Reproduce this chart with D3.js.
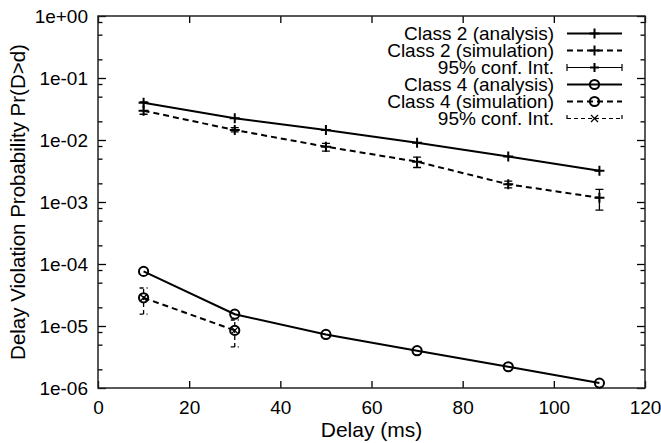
<!DOCTYPE html>
<html><head><meta charset="utf-8">
<script src="https://cdn.jsdelivr.net/npm/d3@7"></script>
<style>body{margin:0;background:#fff}svg{display:block}text{font-family:"Liberation Sans",Arial,sans-serif;fill:#000}</style>
</head><body><svg id="c" width="661" height="443"></svg>
<script>
const delays = [10, 30, 50, 70, 90, 110];
const class2Analysis = [0.040, 0.0224, 0.0145, 0.0090, 0.0054, 0.0032];
const class2Sim = [0.0297, 0.0145, 0.0078, 0.00447, 0.00193, 0.00117];
const class2Lo = [0.026, 0.0135, 0.0066, 0.0036, 0.00169, 0.00074];
const class2Hi = [0.041, 0.0158, 0.0088, 0.0053, 0.00217, 0.0016];
const class4Delays = [10, 30];
const class4Analysis = [7.6e-5, 1.55e-5, 7.3e-6, 4.0e-6, 2.2e-6, 1.2e-6];
const class4Sim = [2.85e-5, 8.5e-6];
const class4Lo = [1.56e-5, 4.6e-6];
const class4Hi = [4.1e-5, 1.25e-5];
const xTicks = [0, 20, 40, 60, 80, 100, 120];
const yTicks = [1, 1e-1, 1e-2, 1e-3, 1e-4, 1e-5, 1e-6];
const yTickLabels = ["1e+00", "1e-01", "1e-02", "1e-03", "1e-04", "1e-05", "1e-06"];
const minorMult = [2, 5, 8];
const legendLabels = ["Class 2 (analysis)", "Class 2 (simulation)", "95% conf. Int.", "Class 4 (analysis)", "Class 4 (simulation)", "95% conf. Int."];

const svg = d3.select("#c");
const L = 98, R = 645, T = 16, B = 388;
const x = d3.scaleLinear().domain([0, 120]).range([L, R]);
const y = d3.scaleLog().domain([1e-6, 1]).range([B, T]);

const minorVals = [];
yTicks.slice(1).forEach(d => minorMult.forEach(m => minorVals.push(d * m)));

const noLab = () => "";
// left axis
const gl = svg.append("g").attr("transform", `translate(${L},0)`)
  .call(d3.axisLeft(y).tickValues(yTicks).tickSize(-8).tickPadding(10)
    .tickFormat((d, i) => yTickLabels[i]));
svg.append("g").attr("transform", `translate(${L},0)`)
  .call(d3.axisLeft(y).tickValues(minorVals).tickSize(-4.5).tickFormat(noLab));
svg.append("g").attr("transform", `translate(${R},0)`)
  .call(d3.axisRight(y).tickValues(yTicks).tickSize(-8).tickFormat(noLab));
svg.append("g").attr("transform", `translate(${R},0)`)
  .call(d3.axisRight(y).tickValues(minorVals).tickSize(-4.5).tickFormat(noLab));
const gb = svg.append("g").attr("transform", `translate(0,${B})`)
  .call(d3.axisBottom(x).tickValues(xTicks).tickSize(-7).tickPadding(12).tickFormat(d3.format("d")));
svg.append("g").attr("transform", `translate(0,${T})`)
  .call(d3.axisTop(x).tickValues(xTicks).tickSize(-7).tickFormat(noLab));
svg.selectAll(".domain").remove();
svg.selectAll(".tick line").attr("stroke", "#000").attr("stroke-width", 1.3);
svg.selectAll(".tick text").style("font-size", "19px").style("font-family", '"Liberation Sans",Arial,sans-serif');
gl.selectAll(".tick text").attr("dy", "0.36em");
gb.selectAll(".tick text").attr("dy", "0.72em");

svg.append("rect").attr("x", L).attr("y", T).attr("width", R - L).attr("height", B - T)
  .attr("fill", "none").attr("stroke", "#222").attr("stroke-width", 1.5);

// axis titles
svg.append("text").attr("x", (L + R) / 2).attr("y", 437).attr("text-anchor", "middle")
  .style("font-size", "21px").text("Delay (ms)");
svg.append("text").attr("transform", `translate(25,${(T + B) / 2}) rotate(-90)`).attr("text-anchor", "middle")
  .style("font-size", "20.5px").text("Delay Violation Probability Pr(D>d)");

const plot = svg.append("g");
const line = d3.line().x(d => x(d[0])).y(d => y(d[1]));

function plus(g, cx, cy, s) {
  g.append("path").attr("d", `M${cx - s},${cy}H${cx + s}M${cx},${cy - s}V${cy + s}`)
    .attr("stroke", "#000").attr("stroke-width", 2).attr("fill", "none");
}
function cross(g, cx, cy, s, w) {
  g.append("path").attr("d", `M${cx - s},${cy - s}L${cx + s},${cy + s}M${cx - s},${cy + s}L${cx + s},${cy - s}`)
    .attr("stroke", "#000").attr("stroke-width", w).attr("fill", "none");
}
function circ(g, cx, cy) {
  g.append("circle").attr("cx", cx).attr("cy", cy).attr("r", 4.6)
    .attr("stroke", "#000").attr("stroke-width", 2).attr("fill", "none");
}
function errbar(g, cx, lo, hi, dash) {
  const c = 4;
  const p = g.append("path").attr("d", `M${cx},${y(lo)}V${y(hi)}M${cx - c},${y(lo)}H${cx + c}M${cx - c},${y(hi)}H${cx + c}`)
    .attr("stroke", "#000").attr("stroke-width", 1.3).attr("fill", "none");
  if (dash) p.attr("stroke-dasharray", "4,3");
}

// Class 2 analysis
plot.append("path").datum(delays.map((d, i) => [d, class2Analysis[i]])).attr("d", line)
  .attr("fill", "none").attr("stroke", "#000").attr("stroke-width", 2);
delays.forEach((d, i) => plus(plot, x(d), y(class2Analysis[i]), 5));
// Class 2 simulation
plot.append("path").datum(delays.map((d, i) => [d, class2Sim[i]])).attr("d", line)
  .attr("fill", "none").attr("stroke", "#000").attr("stroke-width", 2).attr("stroke-dasharray", "6,4");
delays.forEach((d, i) => { errbar(plot, x(d), class2Lo[i], class2Hi[i], false); plus(plot, x(d), y(class2Sim[i]), 5); });
// Class 4 analysis
plot.append("path").datum(delays.map((d, i) => [d, class4Analysis[i]])).attr("d", line)
  .attr("fill", "none").attr("stroke", "#000").attr("stroke-width", 2);
delays.forEach((d, i) => circ(plot, x(d), y(class4Analysis[i])));
// Class 4 simulation
plot.append("path").datum(class4Delays.map((d, i) => [d, class4Sim[i]])).attr("d", line)
  .attr("fill", "none").attr("stroke", "#000").attr("stroke-width", 2).attr("stroke-dasharray", "6,4");
class4Delays.forEach((d, i) => {
  errbar(plot, x(d), class4Lo[i], class4Hi[i], true);
  circ(plot, x(d), y(class4Sim[i]));
  cross(plot, x(d), y(class4Sim[i]), 3.5, 1.3);
});

// legend
const lg = svg.append("g");
const lx0 = 567, lx1 = 622, lxm = (lx0 + lx1) / 2, tx = 554;
legendLabels.forEach((t, i) => {
  const ly = 33.5 + i * 17;
  lg.append("text").attr("x", tx).attr("y", ly).attr("dy", "0.35em").attr("text-anchor", "end")
    .style("font-size", "19px").text(t);
  if (i === 0 || i === 3 || i === 1 || i === 4) {
    const p = lg.append("path").attr("d", `M${lx0},${ly}H${lx1}`).attr("stroke", "#000").attr("stroke-width", 2);
    if (i === 1 || i === 4) p.attr("stroke-dasharray", "6,4");
    if (i < 3) plus(lg, lxm, ly, 5); else circ(lg, lxm, ly);
  } else {
    const p = lg.append("path").attr("d", `M${lx0},${ly}H${lx1}M${lx0},${ly - 3.5}V${ly + 3.5}M${lx1},${ly - 3.5}V${ly + 3.5}`)
      .attr("stroke", "#000").attr("stroke-width", 1.2).attr("fill", "none");
    if (i === 2) plus(lg, lxm, ly, 4.5);
    else { p.attr("stroke-dasharray", "4,3"); cross(lg, lxm, ly, 3.5, 1.2); }
  }
});
</script></body></html>
